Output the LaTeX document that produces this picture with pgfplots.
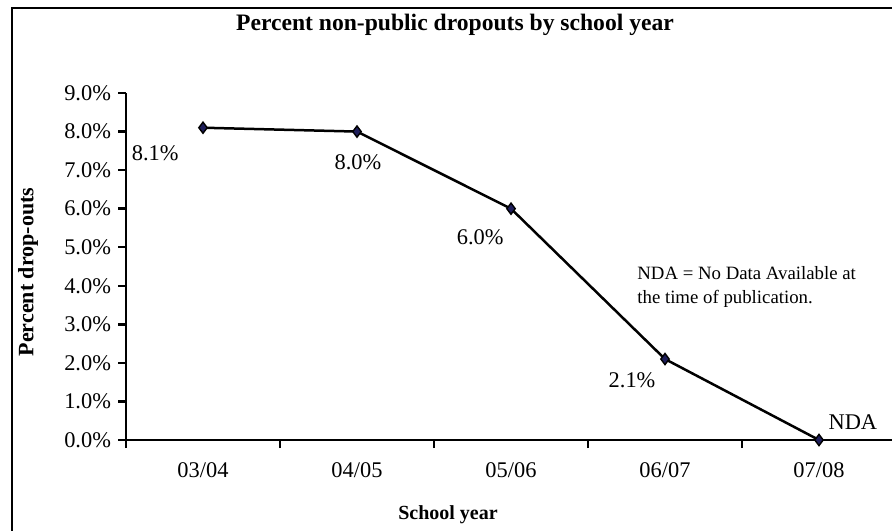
\documentclass[border=0pt]{standalone}
\usepackage{pgfplots}
\pgfplotsset{compat=1.18}
\usepackage{fontspec}
\setmainfont{Liberation Serif}
\definecolor{marknavy}{RGB}{30,30,90}

\begin{document}
\begin{tikzpicture}
% page = 892x530 px, 1 px = 0.5pt, origin at axis lower left (px 126,440)
\useasboundingbox (-63pt,-45pt) rectangle (383pt,220pt);
\draw[line width=1.3pt] (-57pt,-60pt) rectangle (400pt,216pt);
\begin{axis}[
  at={(0pt,0pt)}, anchor=south west,
  scale only axis, width=385pt, height=173.5pt,
  xmin=-0.5, xmax=4.5, ymin=0, ymax=9,
  axis lines*=left,
  axis line style={line width=1.3pt},
  every tick/.style={black, line width=1.2pt},
  tick align=outside,
  xtick={0,1,2,3,4},
  xticklabels={03/04,04/05,05/06,06/07,07/08},
  major x tick style={draw=none},
  minor xtick={-0.5,0.5,1.5,2.5,3.5,4.5},
  minor tick length=4pt,
  ytick={0,1,...,9},
  major tick length=4pt,
  yticklabel={\pgfmathprintnumber[fixed,fixed zerofill,precision=1]{\tick}\%},
  /pgf/number format/assume math mode=true,
  tick label style={font=\fontsize{11.2}{12}\selectfont},
  xticklabel style={yshift=-4pt},
  clip=false,
]
\addplot[black, line width=1.25pt, mark=diamond*, mark size=2.8pt,
  mark options={fill=marknavy, draw=black, line width=0.7pt}]
  coordinates {(0,8.1) (1,8.0) (2,6.0) (3,2.1) (4,0)};
\begin{scope}[font=\fontsize{11.2}{12}\selectfont]
\node at (axis cs:-0.31,7.44) {8.1\%};
\node at (axis cs:1.006,7.20) {8.0\%};
\node at (axis cs:1.80,5.26) {6.0\%};
\node at (axis cs:2.786,1.55) {2.1\%};
\node at (axis cs:4.22,0.47) {NDA};
\end{scope}
\node[anchor=west, align=left, inner sep=0pt, font=\fontsize{9.4}{12}\selectfont]
  at (axis cs:2.818,3.96) {NDA = No Data Available at\\the time of publication.};
\end{axis}
\node[font=\bfseries\fontsize{11.8}{12}\selectfont] at (164.5pt,207.5pt)
  {Percent non-public dropouts by school year};
\node[font=\bfseries\fontsize{10}{12}\selectfont] at (161pt,-37.5pt) {School year};
\node[font=\bfseries\fontsize{11}{12}\selectfont, rotate=90] at (-49pt,84pt) {Percent drop-outs};
\end{tikzpicture}
\end{document}
